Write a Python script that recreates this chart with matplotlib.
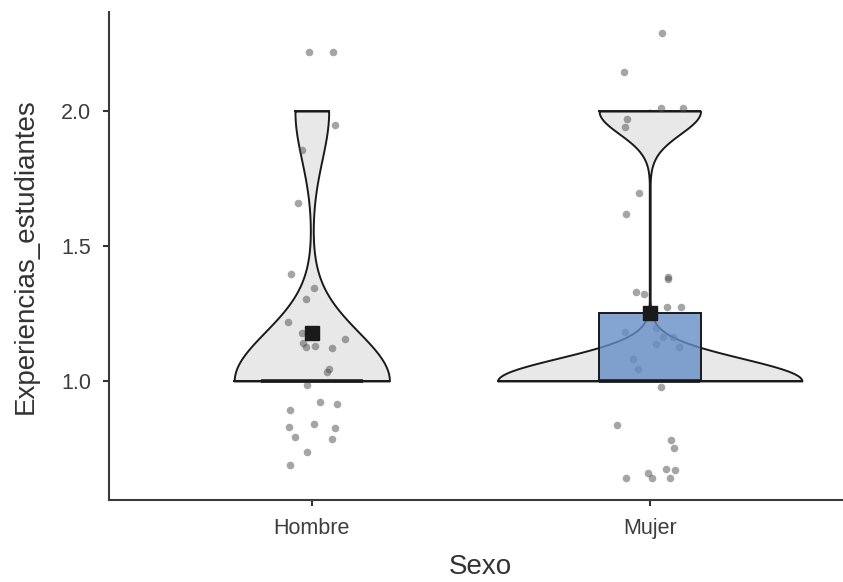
import numpy as np
import matplotlib
matplotlib.use("Agg")
import matplotlib.pyplot as plt

# <------------------------------ Datos ------------------------------------->
grupos = ["Hombre", "Mujer"]

# valores distintos de la variable y cuantas veces aparecen en cada grupo
valores = [1.0, 2.0]
conteo_hombre = [23, 5]
conteo_mujer = [24, 8]

# puntos con jitter (desplazamiento en x respecto de la categoria, y en valor)
hombre_dx = [-0.009, 0.063, 0.069, -0.028, -0.042, -0.062, 0.007, -0.018,
             -0.071, -0.030, 0.098, -0.026, -0.018, 0.010, 0.061, 0.050,
             0.045, -0.014, 0.024, 0.074, -0.065, -0.068, 0.007, 0.068,
             -0.049, 0.060, -0.013, -0.065]
hombre_y = [2.22, 2.22, 1.95, 1.855, 1.658, 1.395, 1.346, 1.305,
            1.217, 1.176, 1.154, 1.142, 1.125, 1.13, 1.123, 1.046,
            1.034, 0.985, 0.923, 0.915, 0.891, 0.831, 0.842, 0.826,
            0.791, 0.784, 0.736, 0.69]

mujer_dx = [0.035, -0.076, 0.033, 0.099, -0.066, -0.074, -0.033, -0.071,
            0.053, 0.054, -0.041, -0.016, 0.050, 0.091, -0.072, 0.017,
            0.039, 0.069, 0.017, 0.086, -0.035, 0.033, -0.098, 0.064,
            0.072, 0.047, 0.075, -0.006, 0.007, -0.071, 0.061, -0.050]
mujer_y = [2.288, 2.143, 2.012, 2.012, 1.970, 1.942, 1.696, 1.619,
           1.384, 1.376, 1.331, 1.321, 1.273, 1.273, 1.18, 1.197,
           1.164, 1.164, 1.137, 1.125, 1.044, 0.977, 0.838, 0.781,
           0.753, 0.674, 0.670, 0.658, 0.641, 0.640, 0.641, 1.08]


# <----------------------------- Funciones ---------------------------------->
def expandir(vals, cuentas):
    return np.repeat(np.array(vals, dtype=float), cuentas)


def bw_nrd0(x):
    # misma regla que bw.nrd0 de R
    hi = np.std(x, ddof=1)
    q1, q3 = np.percentile(x, [25, 75])
    lo = min(hi, (q3 - q1) / 1.34)
    if lo == 0:
        lo = hi
    return 0.9 * lo * len(x) ** (-0.2)


def densidad(x, grid):
    bw = bw_nrd0(x)
    z = (grid[:, None] - x[None, :]) / bw
    return np.exp(-0.5 * z ** 2).sum(axis=1) / (len(x) * bw * np.sqrt(2 * np.pi))


datos = [expandir(valores, conteo_hombre), expandir(valores, conteo_mujer)]
jit_dx = [hombre_dx, mujer_dx]
jit_y = [hombre_y, mujer_y]

grids = [np.linspace(d.min(), d.max(), 512) for d in datos]
dens = [densidad(d, g) for d, g in zip(datos, grids)]
dmax = max(d.max() for d in dens)

# <------------------------------ Grafico ----------------------------------->
plt.rcParams['font.family'] = ['Liberation Sans', 'DejaVu Sans']

fig = plt.figure(figsize=(8.43, 5.82), dpi=100)
ax = fig.add_axes([109 / 843, 82 / 582, 743.6 / 843, 488 / 582])

box_w = 0.15
for i, (d, g, de) in enumerate(zip(datos, grids, dens)):
    pos = i + 1
    q1, med, q3 = np.percentile(d, [25, 50, 75])
    media = d.mean()
    # bigote (queda tapado por el violin)
    if q3 > q1:
        ax.plot([pos, pos], [q3, d.max()], color='#1a1a1a', lw=1.7, zorder=1)
    # violin
    ancho = 0.45 * de / dmax
    ax.fill_betweenx(g, pos - ancho, pos + ancho, facecolor='#e8e8e8',
                     edgecolor='#1a1a1a', lw=1.4, zorder=2)
    ax.plot([pos - ancho[-1], pos + ancho[-1]], [g[-1], g[-1]], color='#1a1a1a',
            lw=1.4, zorder=2)
    ax.plot([pos - ancho[0], pos + ancho[0]], [g[0], g[0]], color='#1a1a1a',
            lw=1.4, zorder=2)
    # puntos
    ax.scatter(pos + np.array(jit_dx[i]), jit_y[i], s=30, color='#4d4d4d',
               alpha=0.5, lw=0, zorder=3)
    # caja
    if q3 > q1:
        ax.add_patch(plt.Rectangle((pos - box_w, q1), 2 * box_w, q3 - q1,
                                   facecolor='#658ec7', alpha=0.8,
                                   edgecolor='none', zorder=4))
        ax.add_patch(plt.Rectangle((pos - box_w, q1), 2 * box_w, q3 - q1,
                                   facecolor='none', edgecolor='#1a1a1a',
                                   lw=1.4, zorder=4))
    ax.plot([pos - box_w, pos + box_w], [med, med], color='#1a1a1a', lw=2.6,
            solid_capstyle='butt', zorder=5)
    # media
    ax.plot(pos, media, marker='s', ms=10.5, color='#1a1a1a', zorder=6)

ax.set_xlim(0.4, 2.6)
ax.set_ylim(0.559, 2.367)
ax.set_xticks([1, 2])
ax.set_xticklabels(grupos)
ax.set_yticks([1.0, 1.5, 2.0])
ax.set_yticklabels(['1.0', '1.5', '2.0'])

for s in ['top', 'right']:
    ax.spines[s].set_visible(False)
for s in ['left', 'bottom']:
    ax.spines[s].set_color('#3a3a3a')
    ax.spines[s].set_linewidth(1.5)
ax.tick_params(colors='#333333', labelcolor='#3d3d3d', labelsize=15.5,
               width=1.5, length=4)
ax.tick_params(axis='x', pad=9)
ax.tick_params(axis='y', pad=9)

ax.set_xlabel('Sexo', fontsize=20, color='#333333', labelpad=11)
ax.set_ylabel('Experiencias_estudiantes', fontsize=20, color='#333333',
              labelpad=16)

fig.savefig('out.png', dpi=100)
